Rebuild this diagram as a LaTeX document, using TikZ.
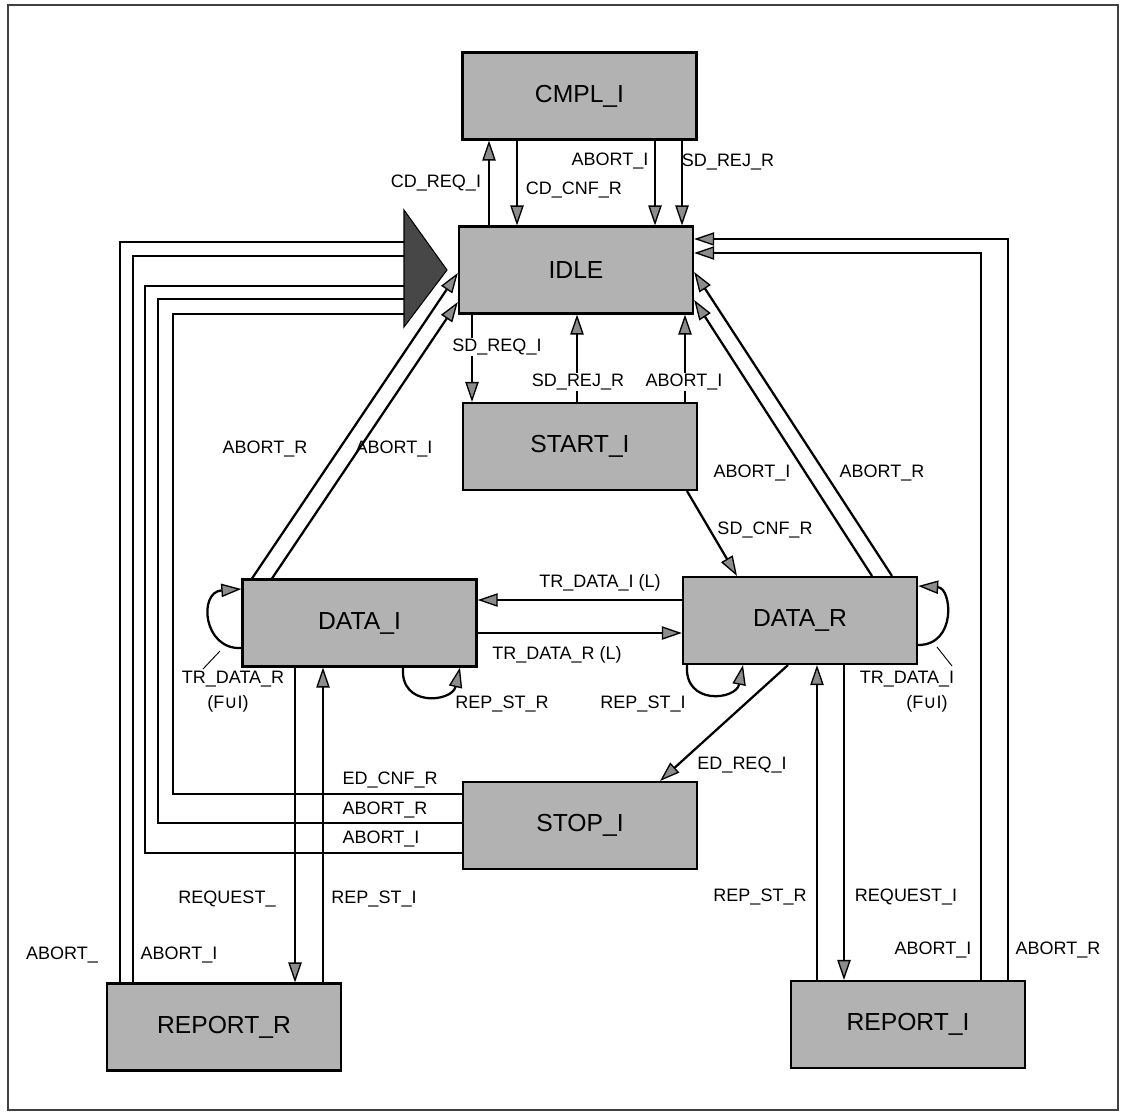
\documentclass[tikz,border=0pt]{standalone}
\usepackage{fontspec}
\setmainfont{Liberation Sans}
\newfontfamily\dejavu{DejaVu Sans}
\usetikzlibrary{arrows.meta}
\begin{document}
\begin{tikzpicture}[x=0.75pt,y=-0.75pt,
  statebox/.style={draw, line width=1.8pt, fill=black!30, minimum width=175.5pt, minimum height=65pt, inner sep=0pt, font=\fontsize{18.5}{20}\selectfont},
  lbl/.style={font=\fontsize{13.5}{15}\selectfont, inner sep=1pt},
  wlbl/.style={lbl, fill=white},
  conn/.style={line width=1.7pt},
  arr/.style={conn, -{Triangle[length=15pt,width=10pt,fill=black!45,line width=1pt]}},
  thin/.style={line width=0.7pt}
]
\useasboundingbox (0,0) rectangle (1125,1115);
\draw[line width=0.8pt, black!75] (8,5) rectangle (1118,1110);

% states
\node[statebox] (cmpl)    at (579.5,96)   {CMPL\_I};
\node[statebox] (idle)    at (576,270)    {IDLE};
\node[statebox] (start)   at (580,446.5)  {START\_I};
\node[statebox] (datai)   at (359.5,623)  {DATA\_I};
\node[statebox] (datar)   at (800,620.5)  {DATA\_R};
\node[statebox] (stop)    at (580,825.5)  {STOP\_I};
\node[statebox] (reportr) at (224,1027)   {REPORT\_R};
\node[statebox] (reporti) at (908,1024.5) {REPORT\_I};

% big merging arrowhead
\coordinate (tri) at (404,270);
\filldraw[fill=black!72, draw=black, line width=0.8pt] (404,210) -- (447,270) -- (404,327) -- cycle;

% CMPL_I <-> IDLE
\draw[arr] (489,0 |- idle.north) -- (489,0 |- cmpl.south);
\draw[arr] (517,0 |- cmpl.south) -- (517,0 |- idle.north);
\draw[arr] (655,0 |- cmpl.south) -- (655,0 |- idle.north);
\draw[arr] (682,0 |- cmpl.south) -- (682,0 |- idle.north);
\node[lbl] (l1) at (436,183) {CD\_REQ\_I};
\node[lbl] (l2) at (574,190) {CD\_CNF\_R};
\node[lbl] (l3) at (610,161) {ABORT\_I};
\node[lbl] (l4) at (728,162) {SD\_REJ\_R};

% IDLE <-> START_I
\draw[arr] (472,0 |- idle.south) -- (472,0 |- start.north);
\draw[arr] (577,0 |- start.north) -- (577,0 |- idle.south);
\draw[arr] (685,0 |- start.north) -- (685,0 |- idle.south);
\node[wlbl] (l5) at (497,347) {SD\_REQ\_I};
\node[wlbl] (l6) at (578,382) {SD\_REJ\_R};
\node[wlbl] (l7) at (684,382) {ABORT\_I};

% START_I -> DATA_R
\draw[arr] (687,0 |- start.south) -- (737,0 |- datar.north);
\node[lbl] (l8) at (765,530) {SD\_CNF\_R};

% DATA_I <-> DATA_R
\draw[arr] (datar.west |- 0,600) -- (datai.east |- 0,600);
\draw[arr] (datai.east |- 0,633) -- (datar.west |- 0,633);
\node[lbl] (l9) at (600,583) {TR\_DATA\_I (L)};
\node[lbl] (l10) at (557,655) {TR\_DATA\_R (L)};

% DATA_I -> IDLE
\draw[arr] (252,0 |- datai.north) -- (idle.west |- 0,273);
\draw[arr] (272,0 |- datai.north) -- (idle.west |- 0,302);
\node[lbl] (l11) at (265,449) {ABORT\_R};
\node[lbl] (l12) at (394,449) {ABORT\_I};

% DATA_R -> IDLE
\draw[arr] (872,0 |- datar.north) -- (idle.east |- 0,300);
\draw[arr] (892,0 |- datar.north) -- (idle.east |- 0,272);
\node[lbl] (l13) at (752,473) {ABORT\_I};
\node[lbl] (l14) at (882,473) {ABORT\_R};

% DATA_R -> STOP_I
\draw[arr] (788,0 |- datar.south) -- (660,0 |- stop.north);
\node[lbl] (l15) at (742,765) {ED\_REQ\_I};

% STOP_I -> IDLE (via big arrowhead)
\draw[conn] (stop.west |- 0,794) -- (173,794) -- (173,314) -- (tri |- 0,314);
\draw[conn] (stop.west |- 0,823) -- (158,823) -- (158,299) -- (tri |- 0,299);
\draw[conn] (stop.west |- 0,853) -- (145,853) -- (145,286) -- (tri |- 0,286);
\node[lbl, anchor=west] (l16) at (341,780) {ED\_CNF\_R};
\node[lbl, anchor=west] (l17) at (341,810) {ABORT\_R};
\node[lbl, anchor=west] (l18) at (341,839) {ABORT\_I};

% REPORT_R -> IDLE
\draw[conn] (120,0 |- reportr.north) -- (120,242) -- (tri |- 0,242);
\draw[conn] (133,0 |- reportr.north) -- (133,256) -- (tri |- 0,256);
\node[lbl] (l19) at (62,955) {ABORT\_};
\node[lbl] (l20) at (179,955) {ABORT\_I};

% DATA_I <-> REPORT_R
\draw[arr] (295,0 |- datai.south) -- (295,0 |- reportr.north);
\draw[arr] (323,0 |- reportr.north) -- (323,0 |- datai.south);
\node[lbl] (l21) at (227,899) {REQUEST\_};
\node[lbl] (l22) at (374,899) {REP\_ST\_I};

% DATA_R <-> REPORT_I
\draw[arr] (817,0 |- reporti.north) -- (817,0 |- datar.south);
\draw[arr] (844,0 |- datar.south) -- (844,0 |- reporti.north);
\node[lbl] (l23) at (760,897) {REP\_ST\_R};
\node[lbl] (l24) at (906,897) {REQUEST\_I};

% REPORT_I -> IDLE
\draw[arr] (981,0 |- reporti.north) -- (981,253) -- (idle.east |- 0,253);
\draw[arr] (1008,0 |- reporti.north) -- (1008,239) -- (idle.east |- 0,239);
\node[lbl] (l25) at (933,950) {ABORT\_I};
\node[lbl] (l26) at (1058,950) {ABORT\_R};

% self loops
\draw[arr] (datai.west |- 0,648) .. controls (203,650) and (198,592) .. (datai.west |- 0,589);
\draw[thin] (220,651) -- (203,669);
\node[lbl] (l27) at (233,679) {TR\_DATA\_R};
\node[lbl] (l28) at (228,704) {(F{\dejavu ∪}I)};

\draw[arr] (403,0 |- datai.south) .. controls (400,708) and (452,702) .. (460,0 |- datai.south);
\node[lbl] (l29) at (502,704) {REP\_ST\_R};

\draw[arr] (687,0 |- datar.south) .. controls (684,706) and (736,700) .. (743,0 |- datar.south);
\node[lbl] (l30) at (643,704) {REP\_ST\_I};

\draw[arr] (datar.east |- 0,645) .. controls (957,645) and (952,588) .. (datar.east |- 0,586);
\draw[thin] (937,647) -- (952,666);
\node[lbl] (l31) at (907,679) {TR\_DATA\_I};
\node[lbl] (l32) at (927,704) {(F{\dejavu ∪}I)};
\end{tikzpicture}
\end{document}
